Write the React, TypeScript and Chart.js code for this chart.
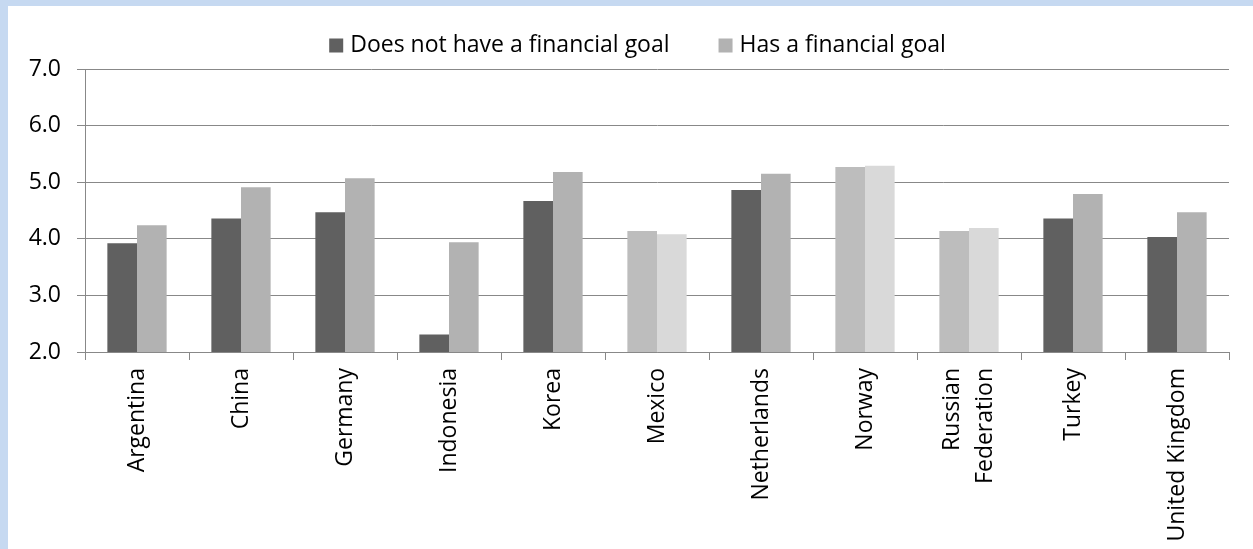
import React, { useEffect, useRef } from "react";
import { Chart, registerables } from "chart.js";

Chart.register(...registerables);

const categories: (string | string[])[] = [
  "Argentina",
  "China",
  "Germany",
  "Indonesia",
  "Korea",
  "Mexico",
  "Netherlands",
  "Norway",
  ["Russian", "Federation"],
  "Turkey",
  "United Kingdom",
];

const noGoal = [3.92, 4.36, 4.47, 2.31, 4.67, 4.14, 4.86, 5.27, 4.14, 4.36, 4.03];
const hasGoal = [4.24, 4.91, 5.07, 3.94, 5.18, 4.08, 5.15, 5.29, 4.19, 4.79, 4.47];

// categories drawn in the paler shades in the source
const paleIdx = [5, 7, 8];

const seriesNames = ["Does not have a financial goal", "Has a financial goal"];
const seriesColors = ["#606060", "#b2b2b2"];
const paleColors = ["#bdbdbd", "#d9d9d9"];

const FONT = "'Open Sans', sans-serif";
const FONT_SIZE = 23;
const LINE_HEIGHT = 1.4;

const legendPlugin = {
  id: "customLegend",
  afterDraw(chart: any) {
    const ctx = chart.ctx as CanvasRenderingContext2D;
    ctx.save();
    ctx.font = `${FONT_SIZE}px ${FONT}`;
    ctx.textBaseline = "middle";
    ctx.textAlign = "left";
    const box = 14;
    const gap = 7;
    const spacing = 49;
    const items = chart.data.datasets.map((ds: any, i: number) => ({
      text: ds.label as string,
      color: seriesColors[i],
      w: ctx.measureText(ds.label).width,
    }));
    const total =
      items.reduce((s: number, it: any) => s + box + gap + it.w, 0) + spacing * (items.length - 1);
    let x = chart.width / 2 + 7 - total / 2;
    const y = 39.5;
    items.forEach((it: any) => {
      ctx.fillStyle = it.color;
      ctx.fillRect(x, y - box / 2, box, box);
      ctx.fillStyle = "#000";
      ctx.fillText(it.text, x + box + gap, y);
      x += box + gap + it.w + spacing;
    });
    ctx.restore();
  },
};

// centre multi-line rotated category labels on their category
const labelCenterPlugin = {
  id: "labelCenter",
  beforeDraw(chart: any) {
    const sx = chart.scales.x;
    const items = sx.getLabelItems();
    items.forEach((item: any) => {
      if (Array.isArray(item.label) && !item._shifted) {
        const lh = item.font.lineHeight;
        item.options.translation[0] -= ((item.label.length - 1) * lh) / 2;
        item._shifted = true;
      }
    });
  },
};

export default function App() {
  const ref = useRef<HTMLCanvasElement | null>(null);

  useEffect(() => {
    document.body.style.margin = "0";
    const canvas = ref.current;
    if (!canvas) return;
    const chart = new Chart(canvas, {
      type: "bar",
      data: {
        labels: categories,
        datasets: [
          {
            label: seriesNames[0],
            data: noGoal,
            backgroundColor: (c: any) =>
              c.dataIndex !== undefined && paleIdx.includes(c.dataIndex) ? paleColors[0] : seriesColors[0],
            categoryPercentage: 0.57,
            barPercentage: 1,
          },
          {
            label: seriesNames[1],
            data: hasGoal,
            backgroundColor: (c: any) =>
              c.dataIndex !== undefined && paleIdx.includes(c.dataIndex) ? paleColors[1] : seriesColors[1],
            categoryPercentage: 0.57,
            barPercentage: 1,
          },
        ],
      },
      options: {
        animation: false,
        responsive: true,
        maintainAspectRatio: false,
        layout: { padding: { top: 63, left: 0, right: 24, bottom: 0 } },
        plugins: {
          tooltip: { enabled: false },
          legend: { display: false },
        },
        scales: {
          x: {
            grid: {
              drawOnChartArea: false,
              drawTicks: true,
              tickLength: 8,
              color: "#888",
              offset: true,
            },
            border: { color: "#888" },
            ticks: {
              autoSkip: false,
              maxRotation: 90,
              minRotation: 90,
              padding: 8,
              color: "#000",
              font: { family: FONT, size: FONT_SIZE, lineHeight: LINE_HEIGHT },
            },
            afterFit: (s: any) => {
              s.height = 197;
            },
          },
          y: {
            min: 2,
            max: 7,
            ticks: {
              stepSize: 1,
              padding: 16,
              color: "#000",
              font: { family: FONT, size: FONT_SIZE },
              callback: (v: any) => Number(v).toFixed(1),
            },
            grid: { color: "#888", tickLength: 8 },
            border: { color: "#888" },
            afterFit: (s: any) => {
              s.width = 77;
            },
          },
        },
      },
      plugins: [legendPlugin, labelCenterPlugin],
    });
    return () => chart.destroy();
  }, []);

  return (
    <div
      style={{
        background: "#c6d9f1",
        width: 1253,
        height: 549,
        paddingLeft: 8,
        paddingTop: 6,
        boxSizing: "border-box",
      }}
    >
      <div style={{ background: "#fff", width: 1245, height: 543, position: "relative" }}>
        <canvas ref={ref} />
      </div>
    </div>
  );
}
